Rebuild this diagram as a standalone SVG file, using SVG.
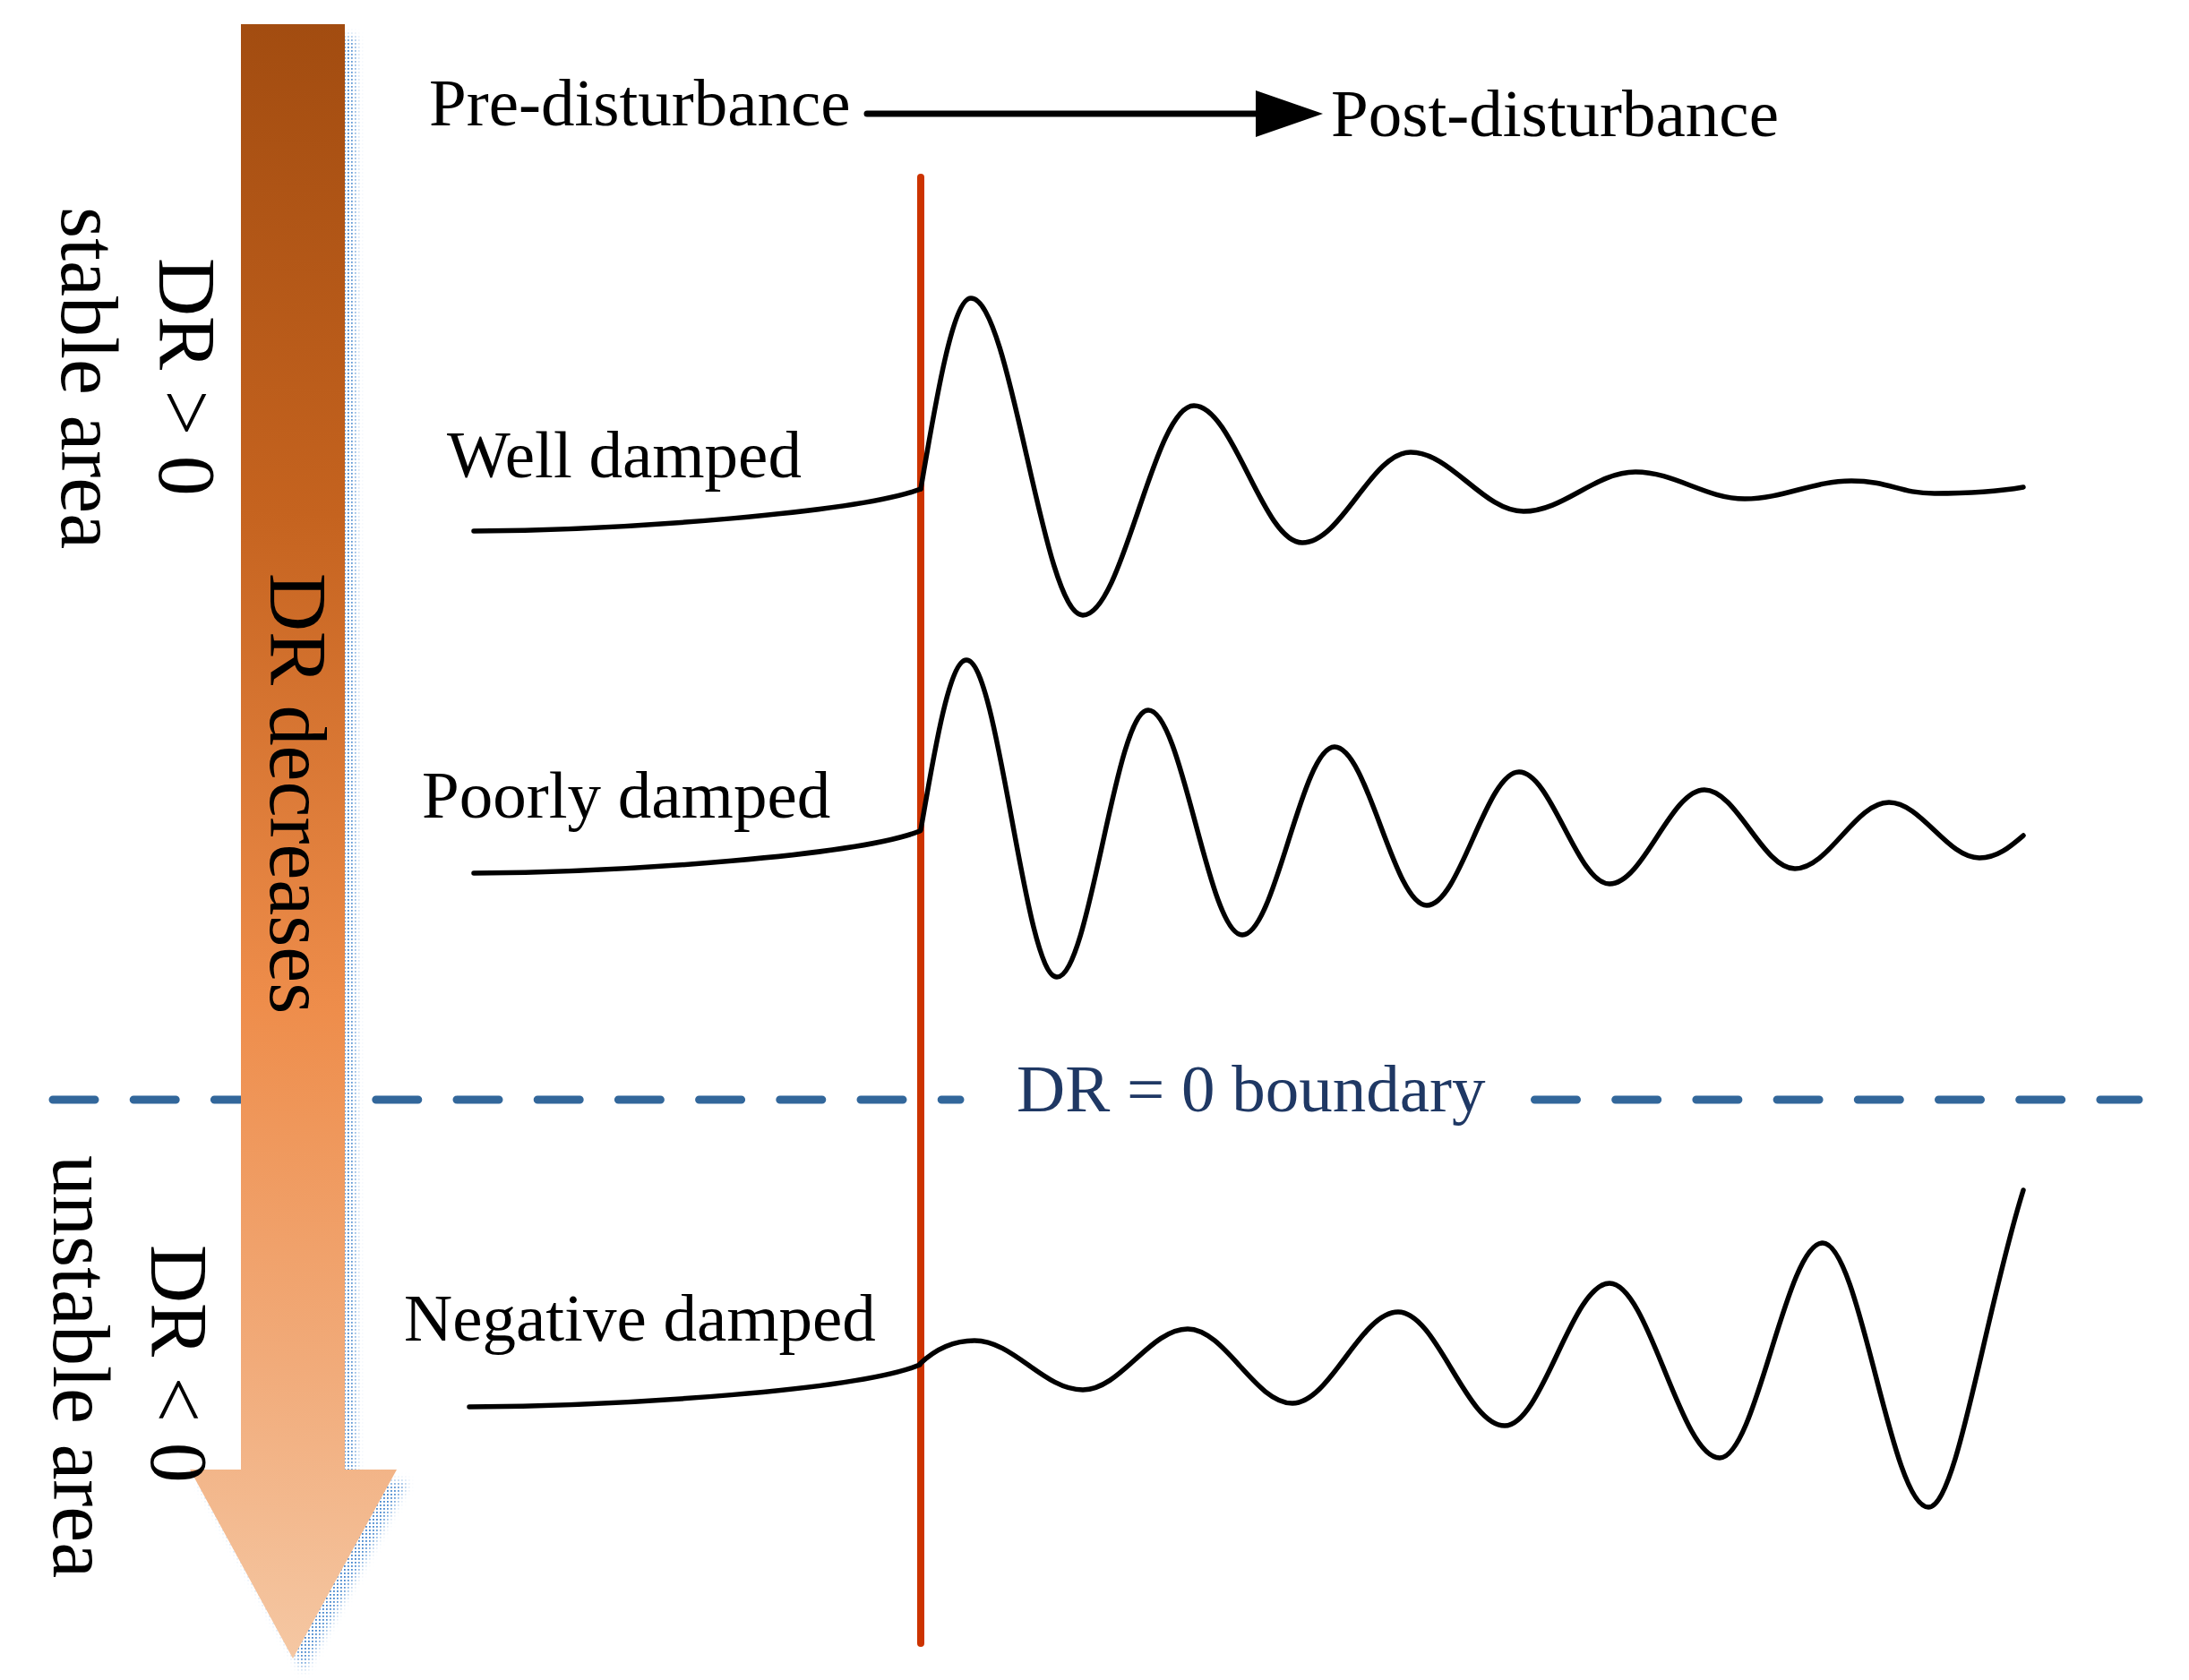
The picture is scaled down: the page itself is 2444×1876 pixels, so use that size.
<svg xmlns="http://www.w3.org/2000/svg" width="2444" height="1876" viewBox="0 0 2444 1876">
  <defs>
    <style>
      .lbl { font-family: "Liberation Serif", "Times New Roman", serif; font-size: 75px; fill: #000; }
      .vlbl { font-family: "Liberation Serif", "Times New Roman", serif; font-size: 90px; fill: #000; }
      .wave { fill: none; stroke: #000; stroke-width: 5.5; stroke-linejoin: round; stroke-linecap: round; }
      .dash { fill: none; stroke: #32679B; stroke-width: 9; stroke-linecap: round; stroke-dasharray: 47 43.2; }
    </style>
    <linearGradient id="arrowGrad" gradientUnits="userSpaceOnUse" x1="400" y1="27" x2="250" y2="1852">
      <stop offset="0" stop-color="#A24C10"/>
      <stop offset="0.3" stop-color="#C5631F"/>
      <stop offset="0.6" stop-color="#EE8D4B"/>
      <stop offset="0.82" stop-color="#F1AB7A"/>
      <stop offset="1" stop-color="#F5C8A4"/>
    </linearGradient>
    <pattern id="dots" width="4" height="4" patternUnits="userSpaceOnUse">
      <rect width="1.8" height="1.8" fill="#3F83CC"/>
    </pattern>
    <filter id="blur" x="-20%" y="-5%" width="140%" height="110%">
      <feGaussianBlur stdDeviation="5"/>
    </filter>
    <mask id="shadowMask" maskUnits="userSpaceOnUse" x="0" y="0" width="2444" height="1876">
      <path d="M269,27 H385 V1641 H443 L327,1852 L212,1641 H269 Z" transform="translate(12,14)" fill="#fff" filter="url(#blur)"/>
    </mask>
    <marker id="head" viewBox="0 0 75 52" refX="0" refY="26" markerWidth="75" markerHeight="52" markerUnits="userSpaceOnUse" orient="auto">
      <path d="M0,0 L75,26 L0,52 Z" fill="#000"/>
    </marker>
  </defs>

  <rect width="2444" height="1876" fill="#fff"/>

  <!-- DR = 0 boundary dashed line (drawn beneath arrow and red line) -->
  <g id="boundary">
    <path class="dash" d="M59,1228 H1072"/>
    <path class="dash" d="M1713.5,1228 H2388"/>
    <text class="lbl" x="1135" y="1241" style="fill:#1F3864">DR = 0 boundary</text>
  </g>

  <!-- Big gradient arrow -->
  <g id="dr-arrow">
    <rect x="200" y="20" width="300" height="1856" fill="url(#dots)" mask="url(#shadowMask)"/>
    <path d="M269,27 H385 V1641 H443 L327,1852 L212,1641 H269 Z" fill="url(#arrowGrad)"/>
    <text class="vlbl" transform="translate(302,640) rotate(90)">DR decreases</text>
  </g>

  <g id="stable-labels">
    <text class="vlbl" transform="translate(178,288) rotate(90)">DR &gt; 0</text>
    <text class="vlbl" transform="translate(69,231) rotate(90)">stable area</text>
  </g>
  <g id="unstable-labels">
    <text class="vlbl" transform="translate(169,1390) rotate(90)">DR &lt; 0</text>
    <text class="vlbl" transform="translate(60,1290) rotate(90)">unstable area</text>
  </g>

  <!-- Disturbance instant -->
  <g id="disturbance-line">
    <line x1="1028" y1="198" x2="1028" y2="1835" stroke="#CC3300" stroke-width="8" stroke-linecap="round"/>
  </g>

  <g id="pre-disturbance">
    <text class="lbl" x="479" y="140">Pre-disturbance</text>
  </g>
  <g id="post-disturbance">
    <text class="lbl" x="1486" y="152">Post-disturbance</text>
  </g>

  <g id="connectors">
    <line x1="968" y1="127" x2="1402" y2="127" stroke="#000" stroke-width="7" stroke-linecap="round" marker-end="url(#head)"/>
  </g>

  <g id="well-damped">
    <text class="lbl" x="499" y="533">Well damped</text>
    <path class="wave" d="M529,593 C700,592 960,572 1028,546"/>
    <path class="wave" d="M1028,546 C1045,446 1064,333 1084,333 C1129,333 1164,687 1209,687 C1254,687 1288,453 1333,453 C1377,453 1410,606 1454,606 C1498,606 1531,505 1575,505 C1620,505 1656,571 1701,571 C1746,571 1781,527 1826,527 C1870,527 1904,557 1948,557 C1991,557 2024,537 2067,537 C2110,537 2120,551 2160,551 C2200,551 2230,549 2259,544"/>
  </g>

  <g id="poorly-damped">
    <text class="lbl" x="471" y="913">Poorly damped</text>
    <path class="wave" d="M529,975 C700,974 960,955 1027,928"/>
    <path class="wave" d="M1028,927 C1043,840 1060,737 1079,737 C1115,737 1144,1091 1180,1091 C1217,1091 1245,793 1282,793 C1320,793 1349,1044 1387,1044 C1424,1044 1453,834 1490,834 C1527,834 1556,1011 1593,1011 C1630,1011 1659,862 1696,862 C1732,862 1761,987 1797,987 C1835,987 1865,882 1903,882 C1939,882 1968,970 2004,970 C2042,970 2071,896 2109,896 C2145,896 2174,958 2210,958 C2230,958 2245,945 2259,933"/>
  </g>

  <g id="negative-damped">
    <text class="lbl" x="451" y="1497">Negative damped</text>
    <path class="wave" d="M524,1571 C700,1570 960,1552 1027,1524"/>
    <path class="wave" d="M1027,1523 C1045,1506 1065,1497 1088,1497 C1132,1497 1165,1552 1209,1552 C1251,1552 1284,1484 1326,1484 C1368,1484 1401,1567 1443,1567 C1485,1567 1519,1465 1561,1465 C1604,1465 1637,1592 1680,1592 C1722,1592 1755,1433 1797,1433 C1841,1433 1876,1628 1920,1628 C1961,1628 1994,1388 2035,1388 C2077,1388 2111,1683 2153,1683 C2185,1683 2215,1470 2259,1329"/>
  </g>
</svg>
